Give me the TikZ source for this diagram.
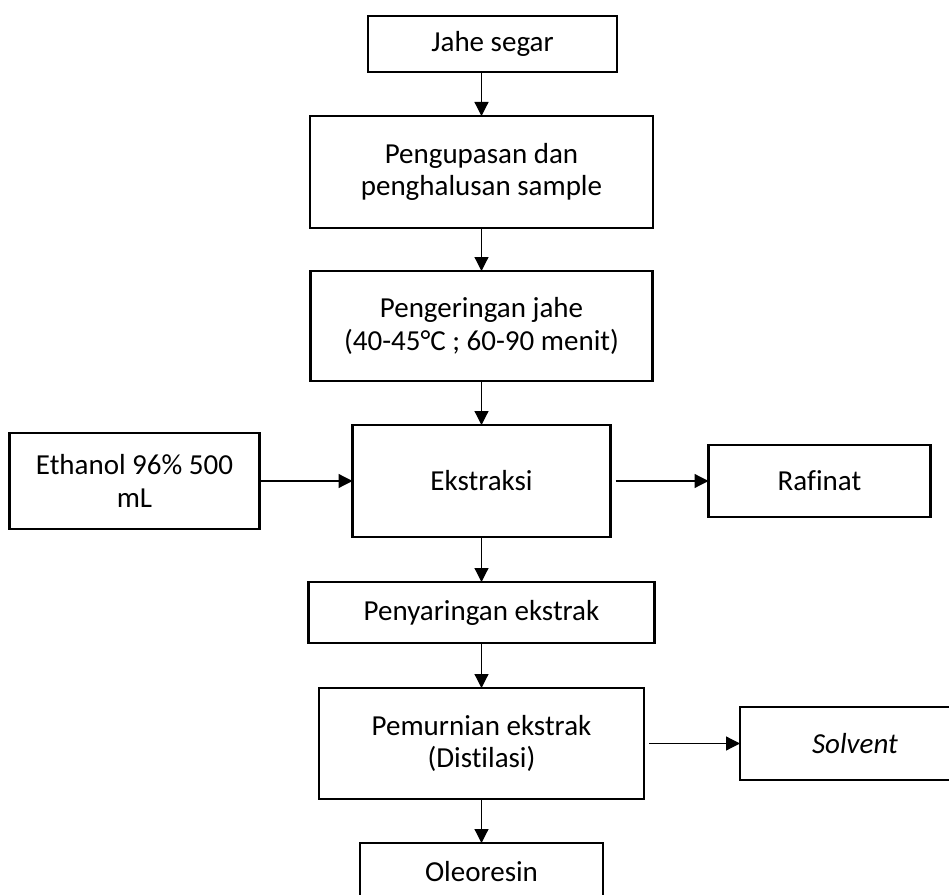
\documentclass[tikz,border=0pt]{standalone}
\usepackage{fontspec}
\setmainfont{Carlito}[Ligatures=NoCommon]
\usetikzlibrary{positioning, arrows.meta}

\begin{document}
\begin{tikzpicture}[
        block/.style={rectangle, draw, line width=1.3pt, align=center, inner sep=0pt, outer sep=0pt, font=\fontsize{16.5}{18.5}\selectfont},
        arrow/.style={-{Triangle[length=0.28cm, width=0.28cm]}, line width=0.7pt}
    ]
        \useasboundingbox (0,0) rectangle (18.98,-17.9);
        \clip (0,0) rectangle (18.98,-17.9);

        \node[block, minimum width=4.98cm, minimum height=1.12cm] (jahe) at (9.85,-0.88) {Jahe segar};

        \node[block, minimum width=6.86cm, minimum height=2.24cm, below=0.88cm of jahe, xshift=-0.22cm] (kupas) {Pengupasan dan\\penghalusan sample};

        \node[block, minimum width=6.84cm, minimum height=2.2cm, below=0.86cm of kupas] (kering) {Pengeringan jahe\\(40-45°C ; 60-90 menit)};

        \node[block, minimum width=5.16cm, minimum height=2.24cm, below=0.88cm of kering] (ekstraksi) {Ekstraksi};
        \node[block, minimum width=5cm, minimum height=1.92cm, left=1.86cm of ekstraksi] (ethanol) {Ethanol 96\% 500\\mL};
        \node[block, minimum width=4.44cm, minimum height=1.44cm, right=1.96cm of ekstraksi] (rafinat) {Rafinat};

        \node[block, minimum width=6.92cm, minimum height=1.22cm, below=0.9cm of ekstraksi] (saring) {Penyaringan ekstrak};

        \node[block, minimum width=6.5cm, minimum height=2.22cm, below=0.9cm of saring] (murni) {Pemurnian ekstrak\\(Distilasi)};
        \node[block, minimum width=4.6cm, minimum height=1.46cm, right=1.92cm of murni, text width=4.6cm, align=center] (solvent) {\textit{Solvent}};

        \node[block, minimum width=4.86cm, minimum height=1.14cm, below=0.88cm of murni] (oleoresin) {Oleoresin};

        \draw[arrow] (jahe.south -| kupas.north) -- (kupas.north);
        \draw[arrow] (kupas) -- (kering);
        \draw[arrow] (kering) -- (ekstraksi);
        \draw[arrow] (ethanol) -- (ekstraksi);
        \draw[arrow, shorten <=0.1cm] (ekstraksi) -- (rafinat);
        \draw[arrow] (ekstraksi) -- (saring);
        \draw[arrow] (saring) -- (murni);
        \draw[arrow, shorten <=0.1cm] (murni) -- (solvent);
        \draw[arrow] (murni) -- (oleoresin);
    \end{tikzpicture}
\end{document}
